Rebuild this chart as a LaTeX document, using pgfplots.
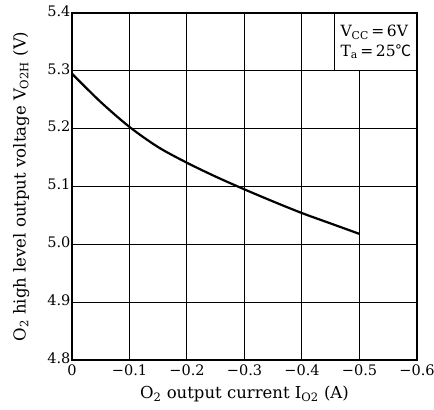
\documentclass[border=0pt]{standalone}
\usepackage{fontspec}
\setmainfont{DejaVu Serif}
\newfontfamily\cjk{Noto Sans CJK JP}
\usepackage{pgfplots}
\pgfplotsset{compat=1.18}

\begin{document}
\begin{tikzpicture}
\begin{axis}[
  width=345pt, height=347pt, scale only axis,
  x dir=reverse,
  xmin=-0.6, xmax=0, ymin=4.8, ymax=5.4,
  xtick={0,-0.1,-0.2,-0.3,-0.4,-0.5,-0.6},
  xticklabels={0,−0.1,−0.2,−0.3,−0.4,−0.5,−0.6},
  ytick={4.8,4.9,5.0,5.1,5.2,5.3,5.4},
  yticklabels={4.8,4.9,5.0,5.1,5.2,5.3,5.4},
  major tick length=0pt,
  grid=major,
  major grid style={black, line width=1pt},
  axis line style={black, line width=1.5pt},
  tick label style={font=\fontsize{14.5}{17}\selectfont},
  label style={font=\fontsize{16.5}{20}\selectfont},
  xticklabel style={yshift=-1pt},
  yticklabel style={xshift=2pt, yshift=2pt},
  xlabel={O\textsubscript{2} output current I\textsubscript{O2} (A)},
  ylabel={O\textsubscript{2} high level output voltage V\textsubscript{O2H} (V)},
  xlabel style={at={(axis description cs:0.5,-0.098)}, anchor=center},
  ylabel style={at={(axis description cs:-0.147,0.5)}, anchor=center},
  clip=false,
]
\addplot[black, line width=2.2pt, smooth] coordinates {
  (0,5.295) (-0.05,5.246) (-0.1,5.203) (-0.15,5.168) (-0.2,5.141)
  (-0.25,5.117) (-0.3,5.095) (-0.35,5.074) (-0.4,5.054) (-0.45,5.036)
  (-0.5,5.018)
};
\draw[fill=white, line width=1pt] (axis cs:-0.457,5.3) rectangle (axis cs:-0.6,5.4);
\node[anchor=center, align=left, inner sep=0pt, font=\fontsize{15.5}{19}\selectfont] at (axis cs:-0.5285,5.35)
  {V\textsubscript{CC}\,=\,6V\\[1pt]T\textsubscript{a}\,=\,25{\cjk ℃}};
\draw[line width=1.5pt] (rel axis cs:0,0) rectangle (rel axis cs:1,1);
\end{axis}
\pgfresetboundingbox
\path ([shift={(-72pt,-50pt)}]current axis.south west) rectangle ([shift={(17pt,13pt)}]current axis.north east);
\end{tikzpicture}
\end{document}
